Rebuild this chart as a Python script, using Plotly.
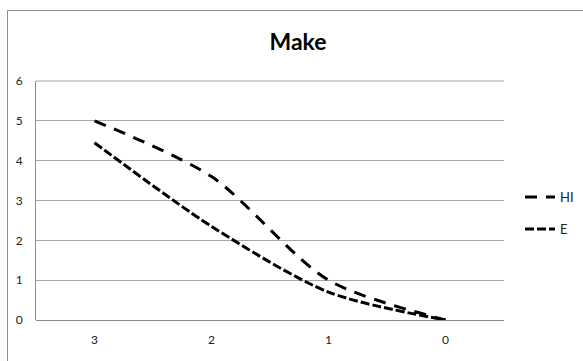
import plotly.graph_objects as go

# Category axis runs from 3 down to 0
categories = ["3", "2", "1", "0"]
hi_values = [5.0, 3.6, 1.0, 0.0]
e_values = [4.45, 2.35, 0.7, 0.0]
y_ticks = [0, 1, 2, 3, 4, 5, 6]

W, H = 583, 361
L, R, T, B = 36, 79, 81, 41
plot_w = W - L - R
plot_h = H - T - B


def px_to_paper_x(px):
    return (px - L) / plot_w


def px_to_paper_y(py):
    return (H - B - py) / plot_h


FONT = "Lato, 'Open Sans', sans-serif"
GRID = "#a6a6a6"

fig = go.Figure()
fig.add_trace(go.Scatter(
    x=categories, y=hi_values, name="HI", mode="lines", showlegend=True,
    line=dict(color="black", width=3, dash="12px,9px", shape="spline", smoothing=0.8),
    legend="legend",
))
fig.add_trace(go.Scatter(
    x=categories, y=e_values, name="E", mode="lines", showlegend=True,
    line=dict(color="black", width=3, dash="9px,3px", shape="spline", smoothing=0.8),
    legend="legend2",
))

legend_common = dict(
    xanchor="left", yanchor="middle", bgcolor="rgba(0,0,0,0)",
    font=dict(family=FONT, size=13, color="#222"),
    itemwidth=30, borderwidth=0,
)

fig.update_layout(
    width=W, height=H, autosize=False, showlegend=True,
    margin=dict(l=L, r=R, t=T, b=B, pad=0, autoexpand=False),
    paper_bgcolor="white", plot_bgcolor="white",
    title=dict(text="<b>Make</b>", x=px_to_paper_x(298), xref="paper", xanchor="center",
               y=1 - 42 / H, yanchor="middle",
               font=dict(family=FONT, size=23, color="black")),
    legend=dict(x=px_to_paper_x(520), y=px_to_paper_y(197), **legend_common),
    legend2=dict(x=px_to_paper_x(520), y=px_to_paper_y(229), **legend_common),
    xaxis=dict(
        type="category", range=[-0.5, 3.5], showgrid=False, zeroline=False,
        showline=False, ticks="", ticklabelstandoff=11, automargin=False,
        tickfont=dict(family=FONT, size=12, color="#222"),
    ),
    yaxis=dict(
        range=[0, 6], tickvals=y_ticks, showgrid=True, gridcolor=GRID, gridwidth=1,
        zeroline=True, zerolinecolor="#8c8c8c", zerolinewidth=1,
        showline=True, linecolor="#8c8c8c", linewidth=1, ticks="", automargin=False,
        ticklabelstandoff=10, tickfont=dict(family=FONT, size=12, color="#222"),
    ),
    shapes=[
        # outer chart frame
        dict(type="rect", xref="paper", yref="paper", layer="below",
             x0=px_to_paper_x(7.5), x1=px_to_paper_x(600),
             y0=px_to_paper_y(380), y1=px_to_paper_y(10.5),
             line=dict(color="#8c8c8c", width=1), fillcolor="rgba(0,0,0,0)"),
        # gridline along the top edge of the plot area (value 6)
        dict(type="line", xref="paper", yref="paper", layer="above",
             x0=0, x1=1, y0=1, y1=1,
             line=dict(color=GRID, width=1)),
    ],
)

fig.write_html("out.html")
